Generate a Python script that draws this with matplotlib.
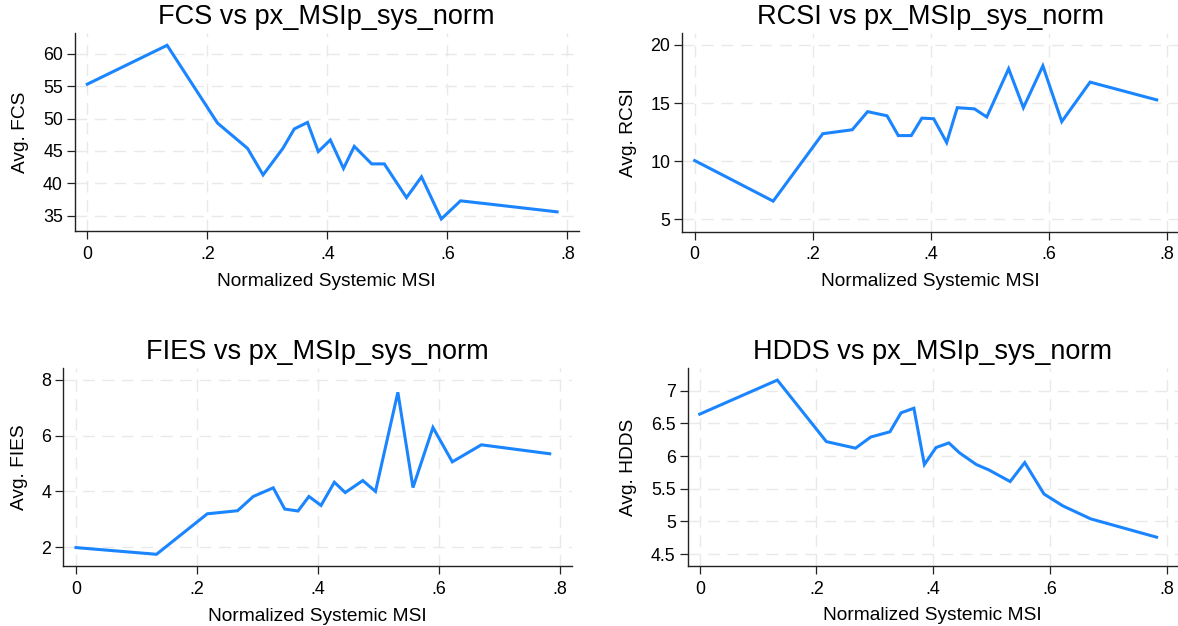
import numpy as np
import matplotlib
matplotlib.use('Agg')
import matplotlib.pyplot as plt
from matplotlib.ticker import FuncFormatter

plt.rcParams['font.family'] = ['Liberation Sans', 'DejaVu Sans']
plt.rcParams['lines.scale_dashes'] = False

# binned means of each outcome over normalized systemic MSI
msi = [0, 0.133, 0.217, 0.267, 0.293, 0.326, 0.345, 0.367, 0.385, 0.405,
       0.427, 0.445, 0.474, 0.495, 0.532, 0.557, 0.59, 0.622, 0.67, 0.783]

fcs = [55.3, 61.3, 49.3, 45.4, 41.3, 45.4, 48.4, 49.4, 44.9, 46.7,
       42.3, 45.7, 43.0, 43.0, 37.8, 41.0, 34.5, 37.3, 36.8, 35.6]
rcsi = [10.05, 6.56, 12.36, 12.7, 14.26, 13.9, 12.2, 12.2, 13.7, 13.65,
        11.6, 14.6, 14.5, 13.8, 17.95, 14.6, 18.2, 13.4, 16.8, 15.27]
fies = [1.99, 1.75, 3.2, 3.31, 3.82, 4.13, 3.37, 3.3, 3.82, 3.5,
        4.33, 3.96, 4.39, 4.0, 7.55, 4.14, 6.29, 5.06, 5.67, 5.35]
hdds = [6.64, 7.16, 6.22, 6.12, 6.29, 6.37, 6.66, 6.73, 5.87, 6.13,
        6.2, 6.05, 5.87, 5.79, 5.61, 5.9, 5.42, 5.24, 5.04, 4.76]

xticks = [0, 0.2, 0.4, 0.6, 0.8]

W, H = 1178, 626
fig = plt.figure(figsize=(W / 100, H / 100), dpi=100)

# name, values, yticks, ylim, box in pixels (left, top, right, bottom)
panels = [
    ('FCS', fcs, [35, 40, 45, 50, 55, 60], (32.6, 63.15), (74.7, 33.3, 578.7, 231.3)),
    ('RCSI', rcsi, [5, 10, 15, 20], (3.93, 21.0), (682.3, 33.3, 1178, 231.7)),
    ('FIES', fies, [2, 4, 6, 8], (1.32, 8.41), (63.3, 368.3, 571.5, 566.3)),
    ('HDDS', hdds, [4.5, 5, 5.5, 6, 6.5, 7], (4.32, 7.34), (687.5, 368.3, 1177.6, 566)),
]


def fmt(v, pos):
    s = ('%g' % v)
    if s.startswith('0.'):
        s = s[1:]
    return s


for name, vals, yticks, ylim, (l, t, r, b) in panels:
    ax = fig.add_axes([l / W, 1 - b / H, (r - l) / W, (b - t) / H])
    ax.plot(msi, vals, color='#1a85ff', lw=2.2, solid_joinstyle='miter', zorder=3)
    ax.set_xlim(-0.021, 0.819)
    ax.set_ylim(*ylim)
    ax.set_xticks(xticks)
    ax.set_yticks(yticks)
    ax.xaxis.set_major_formatter(FuncFormatter(fmt))
    ax.yaxis.set_major_formatter(FuncFormatter(fmt))
    ax.grid(True, color='#e9e9e9', lw=1.0, linestyle=(0, (8.5, 5.5)), zorder=0)
    for side in ['top', 'right']:
        ax.spines[side].set_visible(False)
    for side in ['left', 'bottom']:
        ax.spines[side].set_color('#222222')
        ax.spines[side].set_linewidth(1.0)
    ax.tick_params(axis='both', direction='out', length=5.5, width=0.9,
                   color='#222222', labelsize=12.9, pad=3)
    ax.tick_params(axis='x', pad=5)
    ax.set_title(name + ' vs px_MSIp_sys_norm', fontsize=19.5, pad=7)
    ax.set_xlabel('Normalized Systemic MSI', fontsize=13.8, labelpad=7)
    ax.set_ylabel('Avg. ' + name, fontsize=13.8, labelpad=10)
    ax.set_facecolor('white')

fig.savefig('out.png', dpi=100, facecolor='white')
